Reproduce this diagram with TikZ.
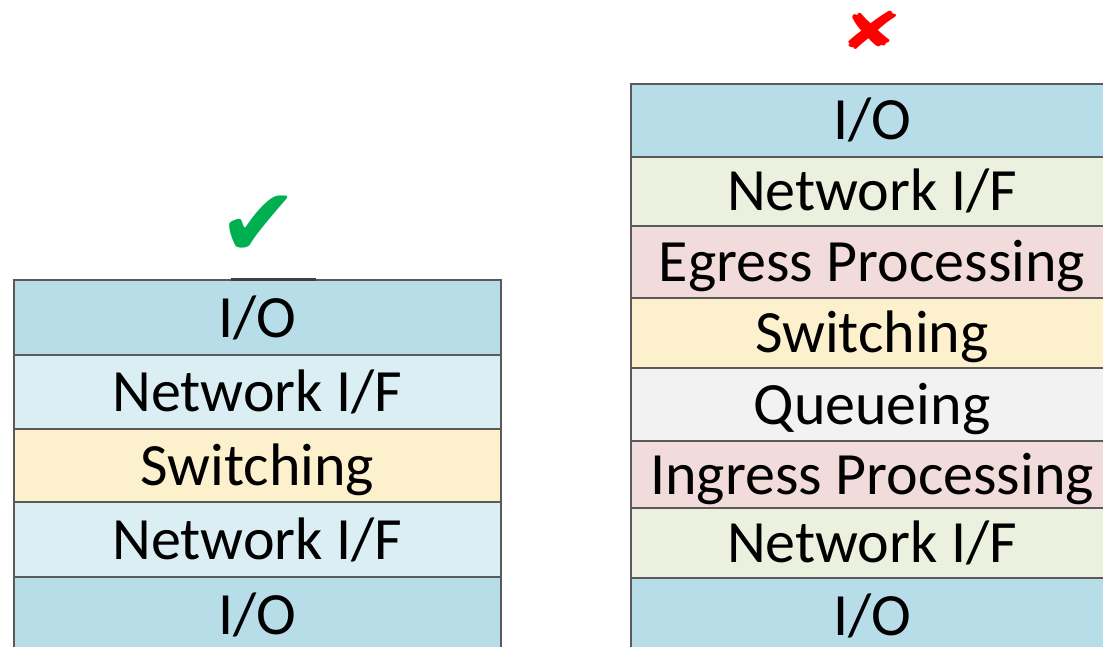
\documentclass[tikz,border=0pt]{standalone}
\usepackage{fontspec}
\setmainfont{Carlito}
\newfontfamily\symfont{DejaVu Sans}
\definecolor{iocol}{HTML}{B7DDE8}
\definecolor{nifcol}{HTML}{DAEEF3}
\definecolor{nifgreen}{HTML}{EBF1DE}
\definecolor{swcol}{HTML}{FDF1CD}
\definecolor{proccol}{HTML}{F2DCDB}
\definecolor{queuecol}{HTML}{F2F2F2}
\definecolor{edgecol}{HTML}{5A5A5A}
\definecolor{okgreen}{HTML}{00B050}
\tikzset{
  layer/.style = {draw = edgecol, line width = 2pt, inner sep = 0pt, outer sep = 0pt,
    text height = 39pt, text depth = 0pt,
    font = \fontsize{60}{60}\selectfont},
  leftlayer/.style = {layer, minimum width = 487pt},
  rightlayer/.style = {layer, minimum width = 482pt},
}
\begin{document}
\begin{tikzpicture}[x = 1pt, y = -1pt]
    \useasboundingbox (0,0) rectangle (1103,647);
    \clip (0,0) rectangle (1103,647);

    % working stack
    \node[leftlayer, fill = iocol, minimum height = 75pt] (lio1) at (257.5,317.5) {I/O};
    \node[leftlayer, fill = nifcol, minimum height = 74pt] (lnif1) at (257.5,392) {Network I/F};
    \node[leftlayer, fill = swcol, minimum height = 73pt] (lsw) at (257.5,465.5) {Switching};
    \node[leftlayer, fill = nifcol, minimum height = 75pt] (lnif2) at (257.5,539.5) {Network I/F};
    \node[leftlayer, fill = iocol, minimum height = 75pt] (lio2) at (257.5,614.5) {I/O};
    \draw[black!75, line width = 2.5pt] (231,279.5) -- (316,279.5);
    \node[text = okgreen, font = \symfont\fontsize{96}{96}\selectfont] (ok) at (259,226) {✔};

    % failing stack
    \node[rightlayer, fill = iocol, minimum height = 73pt] (rio1) at (872,120.5) {I/O};
    \node[rightlayer, fill = nifgreen, minimum height = 69pt] (rnif1) at (872,191.5) {Network I/F};
    \node[rightlayer, fill = proccol, minimum height = 72pt] (regress) at (872,262) {Egress Processing};
    \node[rightlayer, fill = swcol, minimum height = 70pt] (rsw) at (872,333) {Switching};
    \node[rightlayer, fill = queuecol, minimum height = 73pt] (rqueue) at (872,404.5) {Queueing};
    \node[rightlayer, fill = proccol, minimum height = 67pt] (ringress) at (872,474.5) {Ingress Processing};
    \node[rightlayer, fill = nifgreen, minimum height = 70pt] (rnif2) at (872,543) {Network I/F};
    \node[rightlayer, fill = iocol, minimum height = 75pt] (rio2) at (872,615.5) {I/O};
    \node[text = red, font = \symfont\fontsize{72}{72}\selectfont] (bad) at (871,30) {\scalebox{1.05}[0.72]{✘}};
\end{tikzpicture}
\end{document}
